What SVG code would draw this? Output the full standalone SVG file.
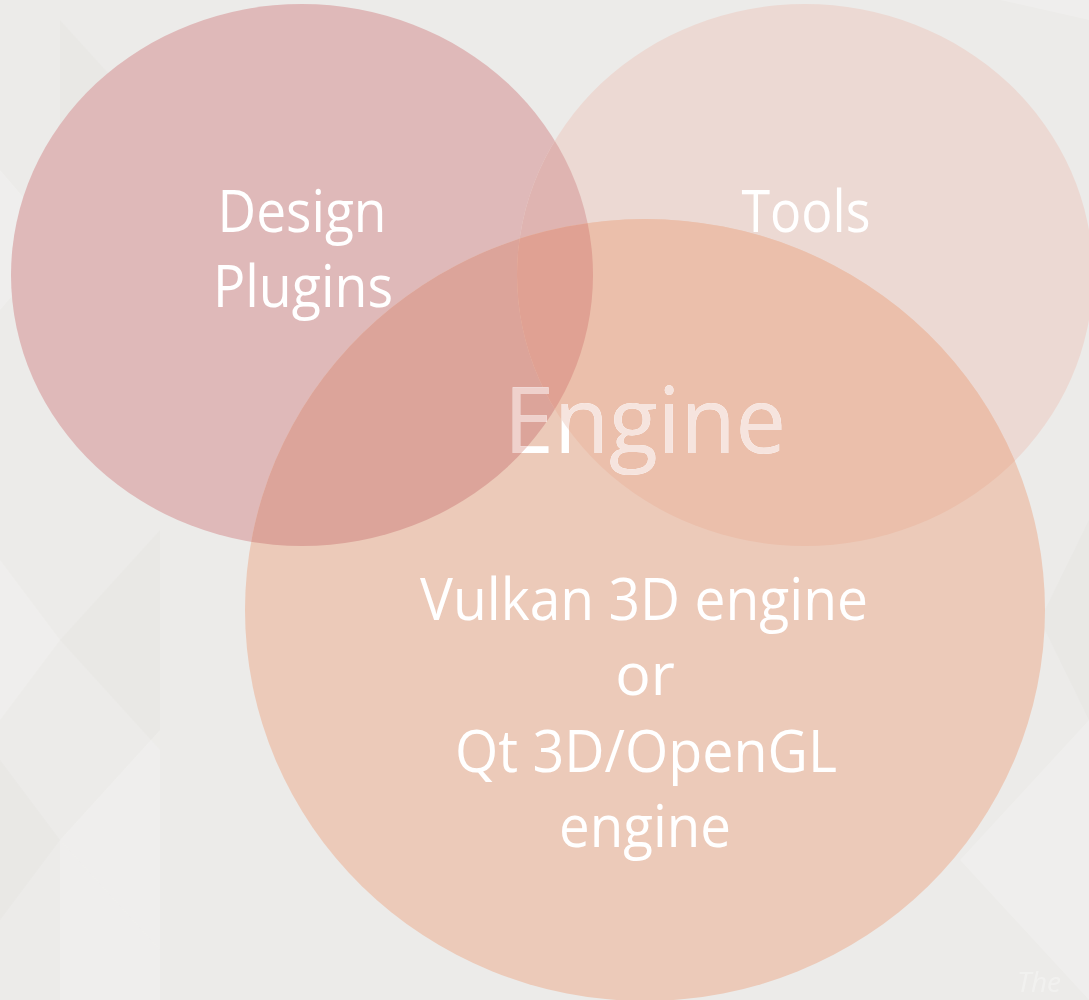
<svg xmlns="http://www.w3.org/2000/svg" width="1089" height="1000" viewBox="0 0 1089 1000">
<style>
.lbl{font-family:"Open Sans","Noto Sans","Liberation Sans",sans-serif;fill:#ffffff;text-anchor:middle}
.bgt{fill:#ffffff;opacity:0.18}
.bgd{fill:#d8d4d0;opacity:0.12}
</style>
<defs>
<clipPath id="cD"><ellipse cx="302" cy="275" rx="291" ry="271"/></clipPath>
<clipPath id="cT"><ellipse cx="805" cy="275" rx="288" ry="271"/></clipPath>
<clipPath id="cE"><ellipse cx="645" cy="610" rx="400" ry="391"/></clipPath>
<clipPath id="cTxt"><text class="lbl" x="645" y="453" font-size="92" textLength="282" lengthAdjust="spacingAndGlyphs">Engine</text></clipPath>
</defs>
<g id="background">
<rect x="0" y="0" width="1089" height="1000" fill="#ecebe9"/>
<polygon class="bgt" points="0,170 60,240 0,310"/>
<polygon class="bgt" points="60,240 160,130 160,350"/>
<polygon class="bgd" points="160,130 60,240 60,20"/>
<polygon class="bgt" points="0,560 60,640 0,720"/>
<polygon class="bgd" points="60,640 160,530 160,750"/>
<polygon class="bgt" points="60,840 160,730 160,950"/>
<polygon class="bgd" points="0,760 60,840 0,920"/>
<polygon class="bgt" points="160,950 60,840 60,1000 160,1000"/>
<polygon class="bgt" points="1089,20 1000,0 1089,0"/>
<polygon class="bgd" points="1089,520 1040,620 1089,720"/>
<polygon class="bgt" points="1089,720 960,860 1089,1000"/>
<text x="1017" y="992" font-family="Open Sans, sans-serif" font-style="italic" font-size="28" fill="#ffffff" opacity="0.3">The</text>
</g>
<g id="node-design">
<ellipse cx="302" cy="275" rx="291" ry="271" fill="#dfb9b9"/>
</g>
<g id="node-tools">
<ellipse cx="805" cy="275" rx="288" ry="271" fill="#ecd9d3"/>
<g clip-path="url(#cD)"><ellipse cx="805" cy="275" rx="288" ry="271" fill="#dfb4b1"/></g>
</g>
<g id="node-engine">
<ellipse cx="645" cy="610" rx="400" ry="391" fill="#eccab9"/>
<g clip-path="url(#cE)">
<ellipse cx="302" cy="275" rx="291" ry="271" fill="#dca49a"/>
<ellipse cx="805" cy="275" rx="288" ry="271" fill="#ebbfab"/>
<g clip-path="url(#cT)"><ellipse cx="302" cy="275" rx="291" ry="271" fill="#e0a193"/></g>
</g>
</g>
<g id="labels">
<text class="lbl" x="302" y="232" font-size="59" textLength="169" lengthAdjust="spacingAndGlyphs">Design</text>
<text class="lbl" x="303" y="307" font-size="59" textLength="180" lengthAdjust="spacingAndGlyphs">Plugins</text>
<text class="lbl" x="806" y="232" font-size="59" textLength="129" lengthAdjust="spacingAndGlyphs">Tools</text>
<text class="lbl" x="645" y="453" font-size="92" textLength="282" lengthAdjust="spacingAndGlyphs">Engine</text>
<g clip-path="url(#cTxt)">
<g clip-path="url(#cT)">
<rect x="480" y="360" width="330" height="120" fill="#f6e4de"/>
</g>
<g clip-path="url(#cD)">
<rect x="480" y="360" width="330" height="120" fill="#efd1cc"/>
</g>
</g>
<text class="lbl" x="644" y="620" font-size="59" textLength="448" lengthAdjust="spacingAndGlyphs">Vulkan 3D engine</text>
<text class="lbl" x="645" y="695" font-size="59">or</text>
<text class="lbl" x="646" y="772" font-size="59" textLength="382" lengthAdjust="spacingAndGlyphs">Qt 3D/OpenGL</text>
<text class="lbl" x="645" y="847" font-size="59" textLength="172" lengthAdjust="spacingAndGlyphs">engine</text>
</g>
<g id="connectors"></g>
</svg>
